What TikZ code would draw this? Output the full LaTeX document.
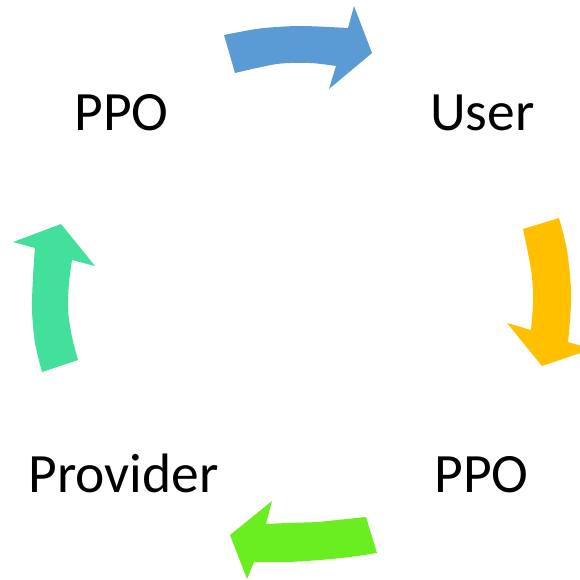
\documentclass[tikz,border=0pt]{standalone}
\usepackage{fontspec}
\setmainfont{Carlito}
\definecolor{cycblue}{HTML}{5B9BD5}
\definecolor{cycyellow}{HTML}{FFC000}
\definecolor{cycgreen}{HTML}{6AEE22}
\definecolor{cycteal}{HTML}{42E09A}
\begin{document}
\begin{tikzpicture}[x=1bp,y=-1bp,
  lbl/.style={anchor=base,inner sep=0pt,font=\fontsize{55.5bp}{66bp}\selectfont},
  bigarrow/.style={draw=none}]
\useasboundingbox (0,0) rectangle (580,580);
\clip (0,0) rectangle (580,580);

% labels
\node[lbl] (ppotop) at (121.5,131) {PPO};
\node[lbl] (user) at (482.5,131) {User};
\node[lbl] (provider) at (123.5,492) {Provider};
\node[lbl] (ppobot) at (481.5,492) {PPO};

% curved block arrows, clockwise
\fill[cycblue,bigarrow] plot[smooth] coordinates {(224,35) (260,28.5) (300,26) (348,28)}
  -- (354,6) -- (372,53) -- (329,89) -- (336,66)
  -- plot[smooth] coordinates {(336,66) (310,63) (277,64) (235,73)} -- cycle;

\fill[cycyellow,bigarrow] plot[smooth] coordinates {(559,218) (567,250) (571,290) (570,320) (568,342)}
  -- (592,349) -- (542,366) -- (507,323) -- (531,330)
  -- plot[smooth] coordinates {(531,330) (533,303) (532,277) (528,253) (523,229)} -- cycle;

\fill[cycgreen,bigarrow] plot[smooth] coordinates {(366,517) (337,520) (317,522) (287,523) (266,524)}
  -- (272,501) -- (230,535) -- (247,579) -- (254,562)
  -- plot[smooth] coordinates {(254,562) (287,562) (320,560) (350,557) (377,553)} -- cycle;

\fill[cycteal,bigarrow] plot[smooth] coordinates {(78,360) (72,337) (68,310) (69,283) (72,260)}
  -- (95,266) -- (61,224) -- (13,242) -- (35,248)
  -- plot[smooth] coordinates {(35,248) (33,277) (32,310) (35,343) (42,372)} -- cycle;
\end{tikzpicture}
\end{document}
